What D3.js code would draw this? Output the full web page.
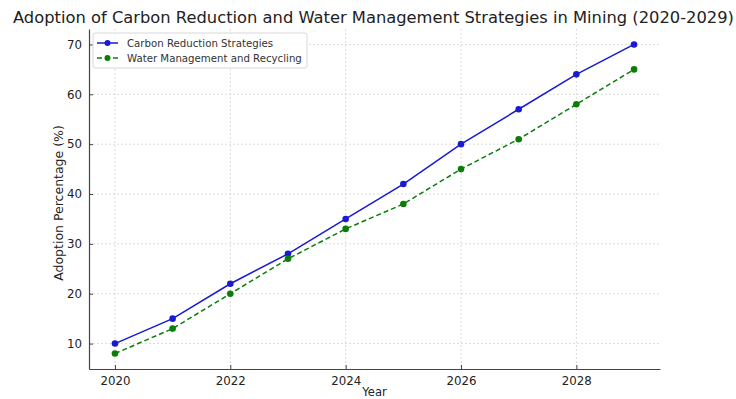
<!DOCTYPE html>
<html>
<head>
<meta charset="utf-8">
<script src="https://cdn.jsdelivr.net/npm/d3@7"></script>
<style>
  body { margin: 0; background: #fff; }
  text { font-family: "DejaVu Sans", sans-serif; }
</style>
</head>
<body>
<div id="chart"></div>
<script>
const years = [2020, 2021, 2022, 2023, 2024, 2025, 2026, 2027, 2028, 2029];
const carbonReduction = [10, 15, 22, 28, 35, 42, 50, 57, 64, 70];
const waterManagement = [8, 13, 20, 27, 33, 38, 45, 51, 58, 65];
const xTicks = [2020, 2022, 2024, 2026, 2028];
const yTicks = [10, 20, 30, 40, 50, 60, 70];
const seriesNames = ["Carbon Reduction Strategies", "Water Management and Recycling"];

const width = 736;
const height = 399;
const plotLeft = 89, plotRight = 660, plotTop = 29, plotBottom = 369;

const svg = d3.select("#chart")
    .append("svg")
    .attr("width", width)
    .attr("height", height);

// scales with matplotlib-like 5% margins
const xPad = (d3.max(years) - d3.min(years)) * 0.05;
const x = d3.scaleLinear()
    .domain([d3.min(years) - xPad, d3.max(years) + xPad])
    .range([plotLeft, plotRight]);

const allY = carbonReduction.concat(waterManagement);
const yPad = (d3.max(allY) - d3.min(allY)) * 0.05;
const y = d3.scaleLinear()
    .domain([d3.min(allY) - yPad, d3.max(allY) + yPad])
    .range([plotBottom, plotTop]);

// grid
svg.append("g")
    .selectAll("line")
    .data(xTicks)
    .enter()
    .append("line")
    .attr("x1", d => x(d)).attr("x2", d => x(d))
    .attr("y1", plotTop).attr("y2", plotBottom)
    .attr("stroke", "#d2d2d2")
    .attr("stroke-width", 0.8)
    .attr("stroke-dasharray", "2,2");

svg.append("g")
    .selectAll("line")
    .data(yTicks)
    .enter()
    .append("line")
    .attr("x1", plotLeft).attr("x2", plotRight)
    .attr("y1", d => y(d)).attr("y2", d => y(d))
    .attr("stroke", "#d2d2d2")
    .attr("stroke-width", 0.8)
    .attr("stroke-dasharray", "2,2");

// axes (ticks pointing inward)
const xAxis = svg.append("g")
    .attr("transform", "translate(0," + plotBottom + ")")
    .call(d3.axisBottom(x).tickValues(xTicks).tickFormat(d3.format("d"))
        .tickSizeInner(-4).tickSizeOuter(0).tickPadding(8));

const yAxis = svg.append("g")
    .attr("transform", "translate(" + plotLeft + ",0)")
    .call(d3.axisLeft(y).tickValues(yTicks)
        .tickSizeInner(-4).tickSizeOuter(0).tickPadding(7));

[xAxis, yAxis].forEach(function (g) {
    g.select(".domain").attr("stroke", "#444").attr("stroke-width", 1.2);
    g.selectAll(".tick line").attr("stroke", "#444");
    g.selectAll(".tick text")
        .style("font-size", "11.8px")
        .attr("fill", "#222");
});

// lines
const line = d3.line()
    .x((d, i) => x(years[i]))
    .y(d => y(d));

const series = [
    { name: seriesNames[0], values: carbonReduction, color: "#1a1ad0", dash: null },
    { name: seriesNames[1], values: waterManagement, color: "#0a7d0a", dash: "5,3" }
];

series.forEach(function (s) {
    svg.append("path")
        .datum(s.values)
        .attr("fill", "none")
        .attr("stroke", s.color)
        .attr("stroke-width", 1.5)
        .attr("stroke-dasharray", s.dash)
        .attr("d", line);

    svg.append("g")
        .selectAll("circle")
        .data(s.values)
        .enter()
        .append("circle")
        .attr("cx", (d, i) => x(years[i]))
        .attr("cy", d => y(d))
        .attr("r", 3.3)
        .attr("fill", s.color);
});

// title
svg.append("text")
    .attr("x", 373.5)
    .attr("y", 23)
    .attr("text-anchor", "middle")
    .attr("fill", "#222")
    .attr("textLength", 721)
    .attr("lengthAdjust", "spacingAndGlyphs")
    .style("font-size", "16.3px")
    .text("Adoption of Carbon Reduction and Water Management Strategies in Mining (2020-2029)");

// axis labels
svg.append("text")
    .attr("x", (plotLeft + plotRight) / 2)
    .attr("y", 396)
    .attr("text-anchor", "middle")
    .attr("fill", "#222")
    .style("font-size", "11.5px")
    .text("Year");

svg.append("text")
    .attr("transform", "translate(63,203) rotate(-90)")
    .attr("text-anchor", "middle")
    .attr("fill", "#222")
    .style("font-size", "12.5px")
    .text("Adoption Percentage (%)");

// legend
const legend = svg.append("g").attr("transform", "translate(93,33)");
legend.append("rect")
    .attr("width", 214)
    .attr("height", 35)
    .attr("rx", 2)
    .attr("fill", "#fff")
    .attr("fill-opacity", 0.8)
    .attr("stroke", "#d8d8d8");

series.forEach(function (s, i) {
    const row = legend.append("g").attr("transform", "translate(0," + (10 + i * 15) + ")");
    row.append("line")
        .attr("x1", 4).attr("x2", 25)
        .attr("stroke", s.color)
        .attr("stroke-width", 1.5)
        .attr("stroke-dasharray", s.dash);
    row.append("circle")
        .attr("cx", 14.5).attr("r", 3)
        .attr("fill", s.color);
    row.append("text")
        .attr("x", 34)
        .attr("dy", "0.35em")
        .attr("fill", "#333")
        .style("font-size", "10.2px")
        .text(s.name);
});
</script>
</body>
</html>
